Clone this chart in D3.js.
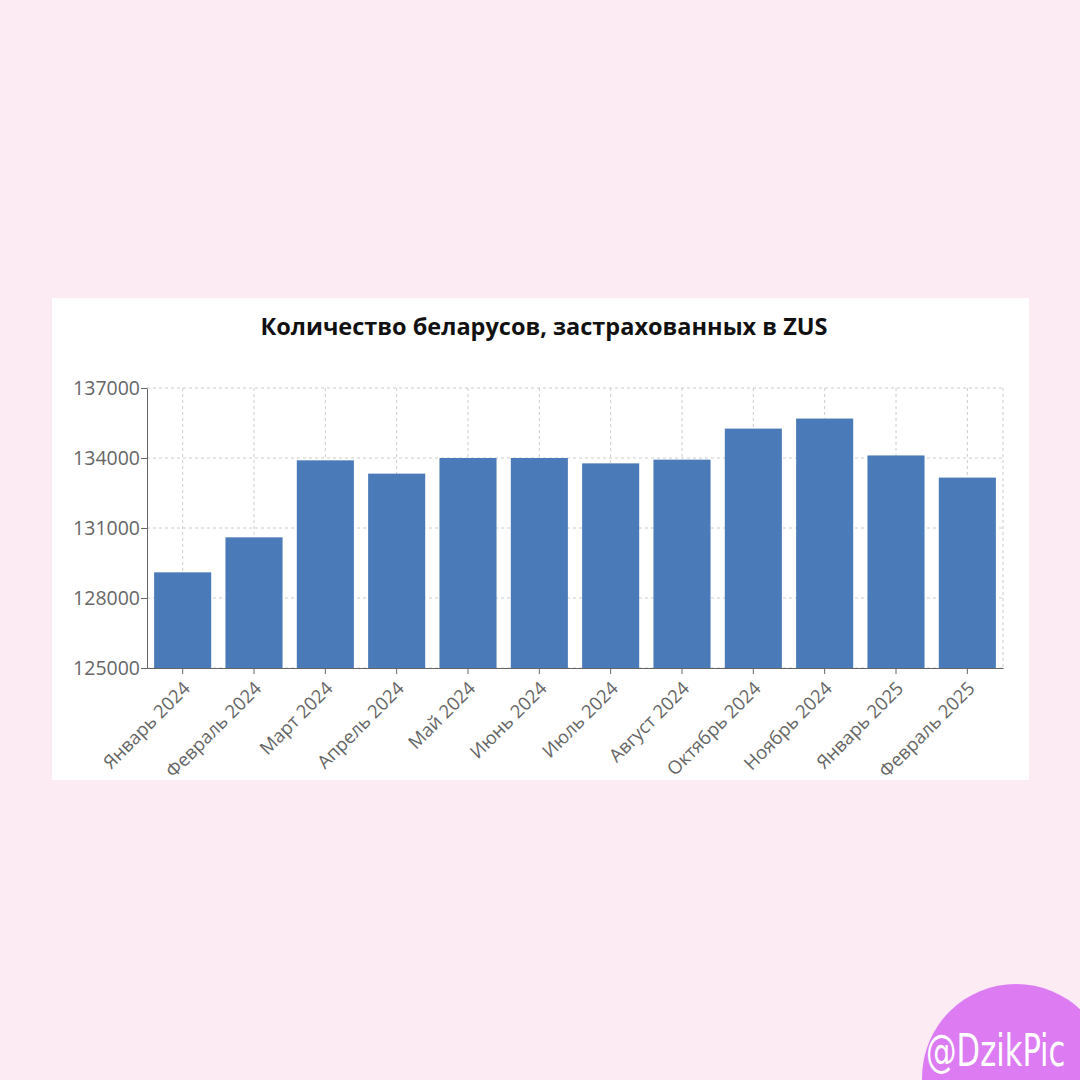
<!DOCTYPE html>
<html>
<head>
<meta charset="utf-8">
<script src="https://cdn.jsdelivr.net/npm/d3@7"></script>
<style>
  html, body { margin: 0; padding: 0; background: #fdebf4; }
  #chart { width: 1080px; height: 1080px; }
  .axis text { font-family: "Open Sans", sans-serif; fill: #666; }
  .axis path, .axis line { stroke: #666; }
</style>
</head>
<body>
<div id="chart"></div>
<script>
// data
var months = ["Январь 2024", "Февраль 2024", "Март 2024", "Апрель 2024", "Май 2024", "Июнь 2024",
              "Июль 2024", "Август 2024", "Октябрь 2024", "Ноябрь 2024", "Январь 2025", "Февраль 2025"];
var insured = [129100, 130600, 133900, 133330, 134000, 134000,
               133770, 133930, 135260, 135690, 134110, 133160];
var yTicks = [125000, 128000, 131000, 134000, 137000];
var title = "Количество беларусов, застрахованных в ZUS";

var svg = d3.select("#chart").append("svg")
    .attr("width", 1080)
    .attr("height", 1080);

svg.append("rect")
    .attr("width", 1080).attr("height", 1080)
    .attr("fill", "#fdebf4");

// white card
svg.append("rect")
    .attr("x", 52).attr("y", 298)
    .attr("width", 977).attr("height", 482)
    .attr("fill", "#fff");

svg.append("text")
    .attr("x", 544).attr("y", 335)
    .attr("text-anchor", "middle")
    .style("font-family", "'Open Sans', sans-serif")
    .style("font-weight", "bold")
    .style("font-size", "23.5px")
    .attr("fill", "#111")
    .text(title);

var margin = { top: 388, left: 147 };
var width = 1003 - margin.left;
var height = 668 - margin.top;

var g = svg.append("g")
    .attr("transform", "translate(" + margin.left + "," + margin.top + ")");

var x = d3.scaleBand()
    .domain(months)
    .range([0, width])
    .paddingInner(0.2)
    .paddingOuter(0.1);

var y = d3.scaleLinear()
    .domain([yTicks[0], yTicks[yTicks.length - 1]])
    .range([height, 0]);

// grid
var grid = g.append("g").attr("class", "grid");
grid.selectAll(".hgrid")
    .data(yTicks)
    .enter().append("line")
    .attr("x1", 0).attr("x2", width)
    .attr("y1", function(d) { return y(d); })
    .attr("y2", function(d) { return y(d); })
    .attr("stroke", "#ccc")
    .attr("stroke-dasharray", "3 3");
grid.selectAll(".vgrid")
    .data(months)
    .enter().append("line")
    .attr("x1", function(d) { return x(d) + x.bandwidth() / 2; })
    .attr("x2", function(d) { return x(d) + x.bandwidth() / 2; })
    .attr("y1", 0).attr("y2", height)
    .attr("stroke", "#ccc")
    .attr("stroke-dasharray", "3 3");
grid.append("line")
    .attr("x1", width).attr("x2", width)
    .attr("y1", 0).attr("y2", height)
    .attr("stroke", "#ccc")
    .attr("stroke-dasharray", "3 3");

// bars
g.selectAll(".bar")
    .data(insured)
    .enter().append("rect")
    .attr("class", "bar")
    .attr("x", function(d, i) { return x(months[i]); })
    .attr("width", x.bandwidth())
    .attr("y", function(d) { return y(d); })
    .attr("height", function(d) { return height - y(d); })
    .attr("fill", "#4a7ab7");

// axes
var xAxis = d3.axisBottom(x).tickSize(6).tickSizeOuter(0);
var yAxis = d3.axisLeft(y).tickValues(yTicks).tickSize(6).tickSizeOuter(0)
    .tickFormat(d3.format("d"));

g.append("g")
    .attr("class", "x-axis axis")
    .attr("transform", "translate(0," + height + ")")
    .call(xAxis)
    .selectAll("text")
    .style("font-size", "18.5px")
    .attr("text-anchor", "end")
    .attr("x", 0).attr("y", 0)
    .attr("dy", "0.35em")
    .attr("transform", "translate(4,17) rotate(-45)");

g.append("g")
    .attr("class", "y-axis axis")
    .call(yAxis)
    .selectAll("text")
    .style("font-size", "19.5px")
    .attr("x", -7);

// watermark
svg.append("circle")
    .attr("cx", 1016).attr("cy", 1078)
    .attr("r", 94)
    .attr("fill", "#dc7bf2");
svg.append("text")
    .attr("transform", "translate(926,1066) scale(1,1.3)")
    .style("font-family", "'DejaVu Sans Condensed', sans-serif")
    .style("font-size", "34px")
    .attr("fill", "#fff")
    .text("@DzikPic");
</script>
</body>
</html>
